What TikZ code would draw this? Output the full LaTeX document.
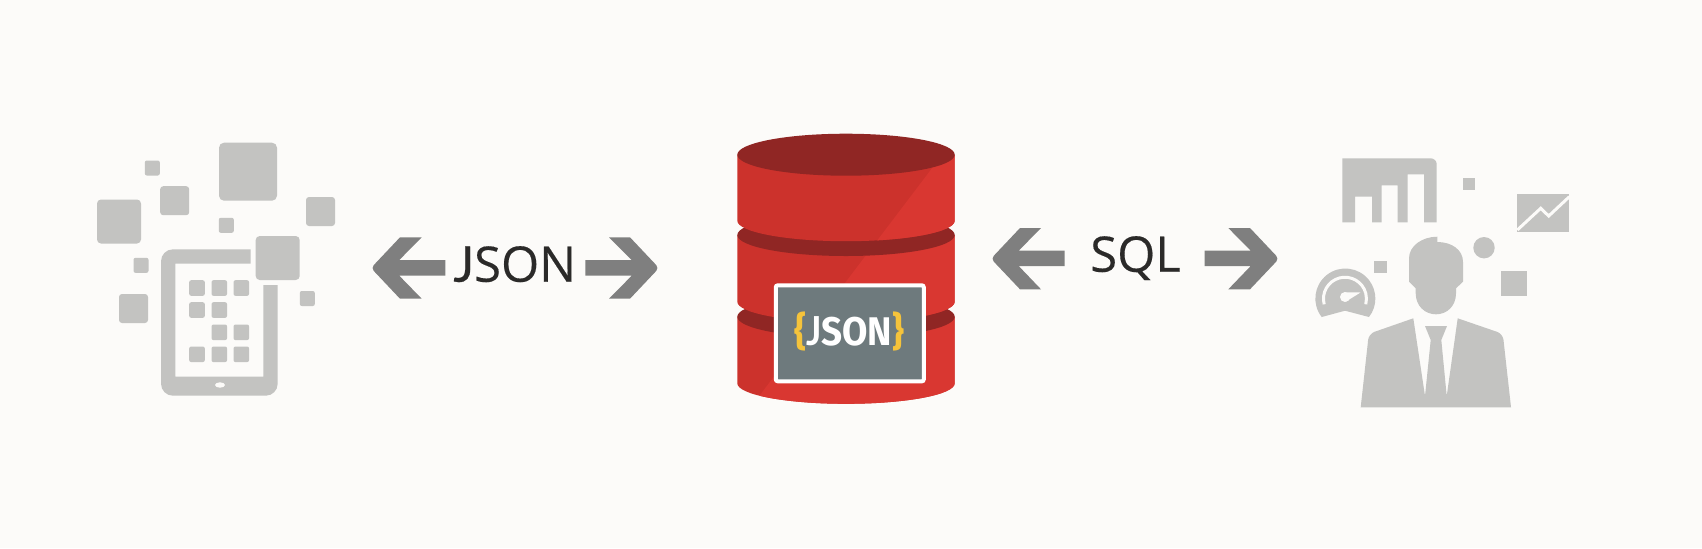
\documentclass[tikz,border=0pt]{standalone}
\usepackage{fontspec}
\setmainfont[FakeBold=0.3]{Open Sans}
\newfontfamily\hookfont[FakeBold=0.6]{Lato}
\newfontfamily\logofont[FakeStretch=0.92]{Fira Sans}
\newfontfamily\logohook[FakeStretch=0.9]{Lato}
\definecolor{paper}{HTML}{FCFBF9}
\definecolor{icongray}{HTML}{C3C3C1}
\definecolor{arrowgray}{HTML}{7F7F7F}
\definecolor{labelink}{HTML}{2B2A29}
\definecolor{cylred}{HTML}{CC322C}
\definecolor{cyllight}{HTML}{D93731}
\definecolor{cyldark}{HTML}{902624}
\definecolor{boxgray}{HTML}{6E7A7D}
\definecolor{braceyellow}{HTML}{F5C33B}
\tikzset{
	icon/.style={fill=icongray},
	tile/.style={shape=rectangle,fill=icongray,inner sep=0pt},
	blockarrow/.style={fill=arrowgray},
	label/.style={anchor=base,text=labelink,inner sep=0pt,font=\fontsize{24.5}{28}\selectfont},
}

\begin{document}
\begin{tikzpicture}[x=0.5pt,y=-0.5pt]
	\useasboundingbox (0,0) rectangle (1702,548);
	\fill[paper] (0,0) rectangle (1702,548);

	% tablet and its tiles
	\node[tile,rounded corners=2.5pt,minimum size=29pt] (TileBig) at (248,171.7) {};
	\foreach \x/\y [count=\i] in {119/221.5,277.7/258}{
		\node[tile,rounded corners=2pt,minimum size=22pt] (TileLarge\i) at (\x,\y) {};
	}
	\foreach \x/\y [count=\i] in {174.7/200.7,320.5/211.5,133.5/308.5}{
		\node[tile,rounded corners=1.5pt,minimum size=14.5pt] (TileMid\i) at (\x,\y) {};
	}
	\foreach \x/\y [count=\i] in {152.3/168,226.3/225.3,141/265.3,307.3/298.5}{
		\node[tile,rounded corners=1pt,minimum size=7.5pt] (TileSmall\i) at (\x,\y) {};
	}
	\foreach \x/\y [count=\i] in {197/288,219.3/288,241.3/288,197/310,219.3/310,219.3/332.3,241.3/332.3,197/354.3,219.3/354.3,241.3/354.3}{
		\node[tile,rounded corners=1pt,minimum size=7.8pt] (App\i) at (\x,\y) {};
	}
	\fill[icon] (250.7,249.3) [rounded corners=6pt] -- (161,249.3) -- (161,395.7) -- (277.7,395.7) [sharp corners] -- (277.7,285) -- (263.3,285) -- (263.3,376.7) -- (175.3,376.7) -- (175.3,263.7) -- (250.7,263.7) -- cycle;
	\fill[paper] (220,385) ellipse (5 and 2.7);

	% JSON arrows
	\fill[blockarrow] (421.7,237.3) -- (400,237.3) [rounded corners=2pt] -- (371,268) [sharp corners] -- (400,298.7) -- (421.7,298.7) -- (399.3,275.7) -- (445.3,275.7) -- (445.3,260) -- (399.3,260) -- cycle;
	\fill[blockarrow] (609,237.3) -- (630,237.3) [rounded corners=2pt] -- (659,268) [sharp corners] -- (630,298.7) -- (609,298.7) -- (631.7,275.7) -- (585.3,275.7) -- (585.3,260) -- (631.7,260) -- cycle;
	\node[label] (JsonLabel) at (514.8,281.7) {{\hookfont J}SON};

	% cylinder
	\foreach \ytop/\ybot in {316.7/383.3,235/301.7,154.7/220.7}{
		\fill[cylred] (737.3,\ytop) -- (737.3,\ybot) arc[start angle=180,end angle=0,x radius=108.7,y radius=20.5] -- (954.7,\ytop) -- cycle;
		\begin{scope}
			\clip (961,130) -- (748.6,410) -- (1000,410) -- (1000,130) -- cycle;
			\fill[cyllight] (737.3,\ytop) -- (737.3,\ybot) arc[start angle=180,end angle=0,x radius=108.7,y radius=20.5] -- (954.7,\ytop) -- cycle;
		\end{scope}
		\fill[cyldark] (846,\ytop) ellipse (108.7 and 21);
	}
	\node[shape=rectangle,draw=white,fill=boxgray,line width=2pt,rounded corners=1pt,inner sep=0pt,minimum width=74pt,minimum height=48pt] (JsonBox) at (849.8,333.3) {};
	\node[anchor=base,inner sep=0pt,text=white,font=\logofont\bfseries\fontsize{20}{24}\selectfont] (JsonLogo) at (849.2,345) {\textcolor{braceyellow}{\{}{\logohook\bfseries J}SON\textcolor{braceyellow}{\}}};

	% SQL arrows
	\fill[blockarrow] (1041,228) -- (1020,228) [rounded corners=2pt] -- (991,258.7) [sharp corners] -- (1020,289.3) -- (1041,289.3) -- (1018.7,266) -- (1064.7,266) -- (1064.7,250.7) -- (1018.7,250.7) -- cycle;
	\fill[blockarrow] (1228.3,228) -- (1250,228) [rounded corners=2pt] -- (1279,258.7) [sharp corners] -- (1250,289.3) -- (1228.3,289.3) -- (1250.7,266) -- (1204.7,266) -- (1204.7,250.7) -- (1250.7,250.7) -- cycle;
	\node[label] (SqlLabel) at (1135.5,271.7) {SQL};

	% bar chart
	\fill[icon] (1342.3,158.3) [rounded corners=3pt] -- (1436.7,158.3) [sharp corners] -- (1436.7,222.3) -- (1424,222.3) -- (1424,174.3) -- (1407.7,174.3) -- (1407.7,222.3) -- (1397.7,222.3) -- (1397.7,185.3) -- (1381.7,185.3) -- (1381.7,222.3) -- (1372,222.3) -- (1372,196.7) -- (1355,196.7) -- (1355,222.3) -- (1342.3,222.3) -- cycle;

	% loose shapes
	\fill[icon] (1462.7,177.7) rectangle (1475.3,190);
	\fill[icon] (1374.3,261) rectangle (1387.3,273.3);
	\fill[icon] (1501.3,271.3) rectangle (1527,296);
	\fill[icon] (1484,247.7) circle (10.7);

	% line chart
	\fill[icon] (1517.3,194) rectangle (1569.3,232);
	\draw[paper,line width=1.5pt] (1517.3,230) -- (1540.7,208.3) -- (1548.7,216) -- (1569.3,196.7);

	% gauge
	\fill[icon] (1321.7,317) arc[start angle=142,end angle=398,radius=30] -- (1345,310.7) -- cycle;
	\draw[paper,line width=1.5pt] (1324.2,304.3) arc[start angle=165,end angle=375,radius=21.5];
	\fill[paper] (1345,297) circle (5);
	\fill[paper] (1344,292.3) -- (1360.5,292.5) -- (1346,301.5) -- cycle;

	% person
	\fill[icon] (1437.3,242) .. controls (1452,242) and (1463,250) .. (1463,262) -- (1463,281.7) -- (1456,288.3) -- (1456,293.3) .. controls (1456,306) and (1447,314.3) .. (1436,314.3) .. controls (1425,314.3) and (1415.7,306) .. (1415.7,293.3) -- (1415.7,288.3) -- (1409,281.7) -- (1409,258.3) .. controls (1409,246) and (1422,236.7) .. (1437.3,236.7) -- cycle;
	\fill[icon] (1360.7,407.3) [rounded corners=3pt] -- (1368.8,333.8) [sharp corners] -- (1413.3,318.3) -- (1425,396) -- (1430.7,340) -- (1425,326) -- (1447,326) -- (1441.3,340) -- (1446.7,396) -- (1457.7,318.3) [rounded corners=3pt] -- (1502.8,333.8) [sharp corners] -- (1511,407.3) -- cycle;
\end{tikzpicture}
\end{document}
